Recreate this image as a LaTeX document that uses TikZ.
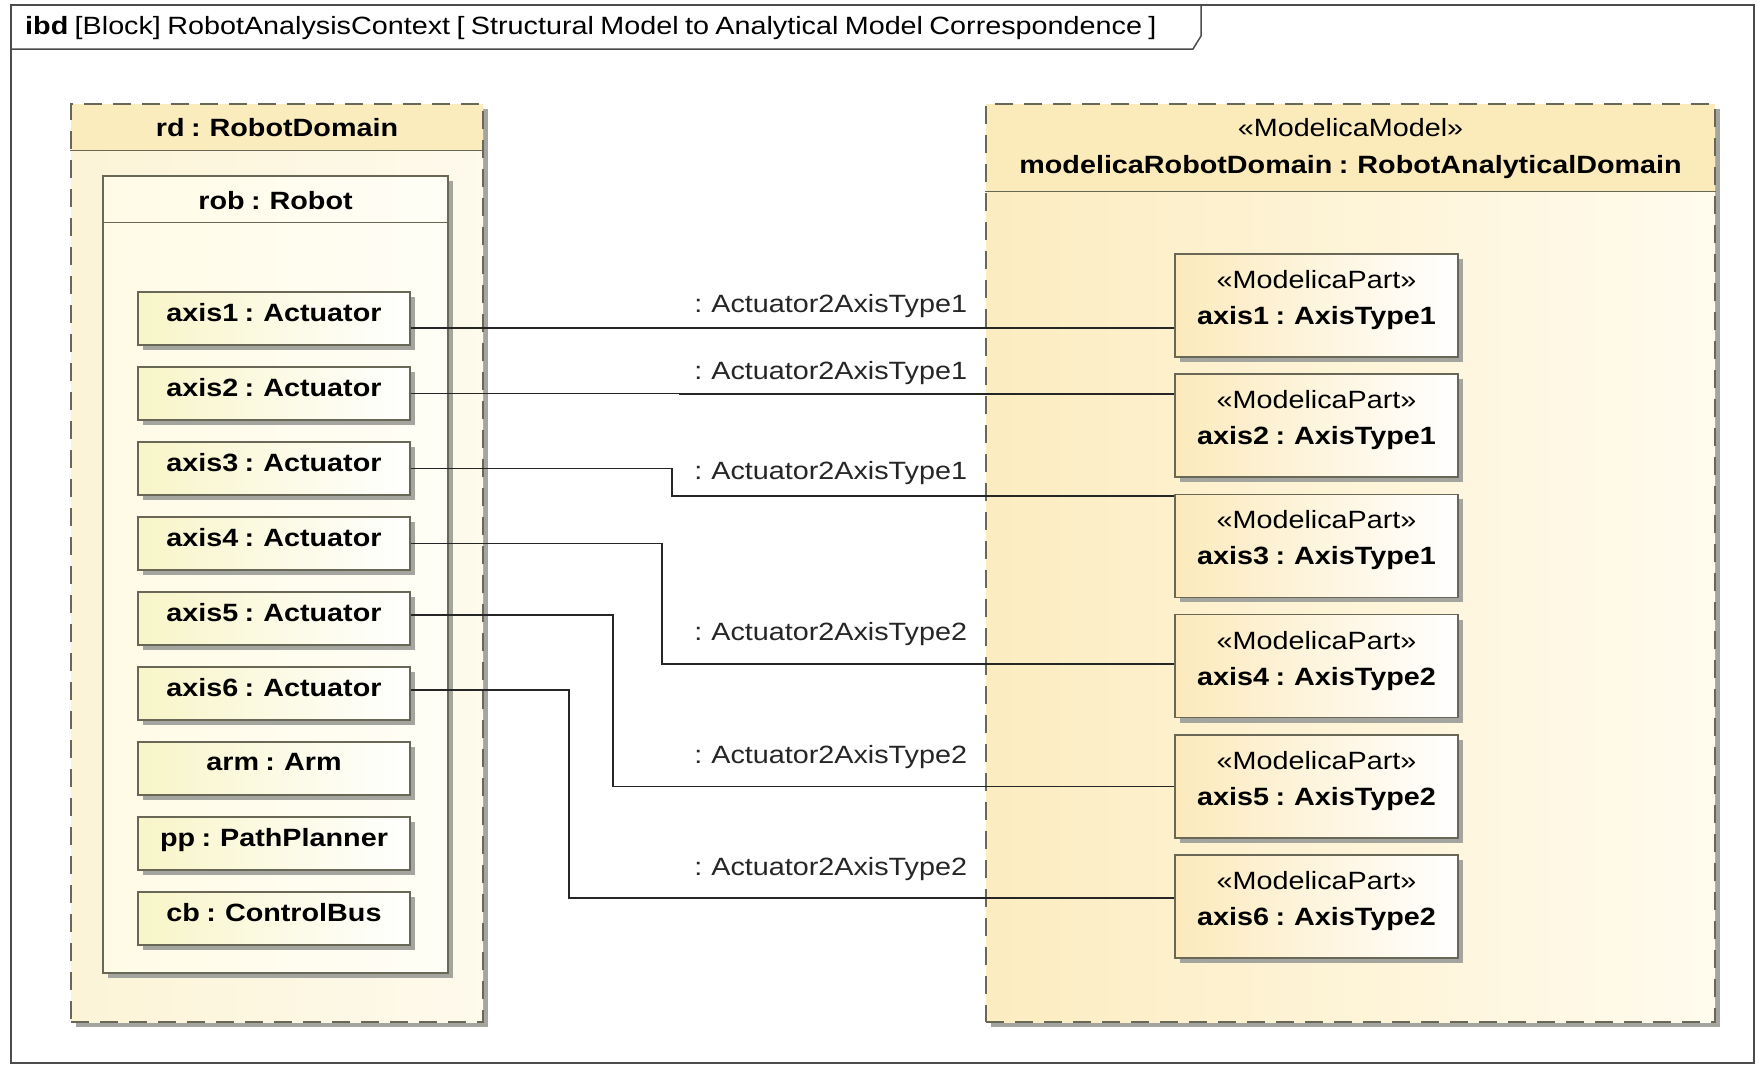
\documentclass[tikz,border=0pt]{standalone}
\usepackage{fontspec}
\setmainfont{Liberation Sans}[FakeStretch=1.15,WordSpace=0.8]
\usetikzlibrary{shadows}
\definecolor{edgegray}{RGB}{105,103,85}
\definecolor{shadowgray}{RGB}{165,165,160}
\definecolor{rdhead}{RGB}{251,236,190}
\definecolor{rdleft}{RGB}{252,244,215}
\definecolor{rdright}{RGB}{254,250,236}
\definecolor{robleft}{RGB}{255,251,230}
\definecolor{robright}{RGB}{255,254,246}
\definecolor{apartfill}{RGB}{248,245,200}
\definecolor{mdhead}{RGB}{251,234,186}
\definecolor{mdleft}{RGB}{252,236,192}
\definecolor{mdright}{RGB}{255,251,238}
\definecolor{mpartfill}{RGB}{252,234,188}
\newcommand\dgfont{\fontsize{25}{36}\selectfont}

\begin{document}
\begin{tikzpicture}[x=1pt,y=-1pt,
    partline/.style={draw=edgegray,line width=1.5pt},
    shade/.style={drop shadow={shadow xshift=5pt,shadow yshift=-5pt,fill=shadowgray,opacity=1}},
    block/.style={rectangle,partline,dash pattern=on 18pt off 11pt,shade,inner sep=0pt},
    apart/.style={rectangle,partline,shade,left color=apartfill,right color=white,
        minimum width=272pt,minimum height=53pt,text depth=13pt,font=\dgfont\bfseries},
    mpart/.style={rectangle,partline,shade,left color=mpartfill,right color=white,
        minimum width=283pt,minimum height=103pt,align=center,font=\dgfont},
    conn/.style={draw=black!85,line width=1.5pt},
    lbl/.style={font=\dgfont,text=black!85,inner sep=0pt}]
    \useasboundingbox (0,0) rectangle (1756,1066);
    \fill[white] (0,0) rectangle (1756,1066);

    % diagram frame
    \draw[line width=2pt,draw=black!70] (11,5) rectangle (1754,1063);
    \draw[line width=1.5pt,draw=black!70] (11,49) -- (1193,49) -- (1201,36) -- (1201,5);
    \node[anchor=west,font=\dgfont,inner sep=0pt] (hdr) at (25,28)
        {\textbf{ibd} [Block] RobotAnalysisContext [ Structural Model to Analytical Model Correspondence ]};

    % structural side
    \node[block,left color=rdleft,right color=rdright,minimum width=412pt,minimum height=918pt,
        path picture={\fill[rdhead] (path picture bounding box.north west) rectangle ([yshift=-47pt]path picture bounding box.north east);}] (rd) at (277,563) {};
    \draw[partline] ([yshift=-47pt]rd.north west) -- ([yshift=-47pt]rd.north east);
    \node[font=\dgfont\bfseries] (rdname) at ([yshift=-24pt]rd.north) {rd : RobotDomain};

    \node[rectangle,partline,shade,left color=robleft,right color=robright,
        minimum width=345pt,minimum height=797pt,inner sep=0pt] (rob) at (275.5,574.5) {};
    \draw[partline] ([yshift=-47pt]rob.north west) -- ([yshift=-47pt]rob.north east);
    \node[font=\dgfont\bfseries] (robname) at ([yshift=-25pt]rob.north) {rob : Robot};

    \foreach \nm/\txt [count=\k] in {a1/axis1 : Actuator,a2/axis2 : Actuator,a3/axis3 : Actuator,
        a4/axis4 : Actuator,a5/axis5 : Actuator,a6/axis6 : Actuator,
        arm/arm : Arm,pp/pp : PathPlanner,cb/cb : ControlBus}
        \node[apart] (\nm) at (274,{318.5+75*(\k-1)}) {\txt};

    % analytical side
    \node[block,left color=mdleft,right color=mdright,minimum width=729pt,minimum height=918pt,
        path picture={\fill[mdhead] (path picture bounding box.north west) rectangle ([yshift=-88pt]path picture bounding box.north east);}] (md) at (1350.5,563) {};
    \draw[partline] ([yshift=-88pt]md.north west) -- ([yshift=-88pt]md.north east);
    \node[font=\dgfont] (mdstereo) at ([yshift=-24pt]md.north) {«ModelicaModel»};
    \node[font=\dgfont\bfseries] (mdname) at ([yshift=-64pt]md.north) {modelicaRobotDomain : RobotAnalyticalDomain};

    \foreach \k/\ty in {1/1,2/1,3/1,4/2,5/2,6/2}
        \node[mpart] (m\k) at (1316.5,{305.5+120.2*(\k-1)})
            {«ModelicaPart»\\\textbf{axis\k{} : AxisType\ty}\\[-20pt]\mbox{}};

    % connectors
    \foreach \i/\jx/\ls/\rs/\ly/\ty in {1/680/-9.5/-22.5/22/1,2/680/0/31.7/21/1,3/672/0/50/23/1,
        4/662/0/2/30/2,5/613/3.5/0/29/2,6/569/3.5/8.5/29/2} {
        \coordinate (j\i) at (\jx,0);
        \coordinate (l\i) at ([yshift=\ls pt]a\i.east);
        \coordinate (r\i) at ([yshift=\rs pt]m\i.west);
        \draw[conn] (l\i) -- (l\i -| j\i) |- (r\i);
        \path (r\i -| md.west) ++(-18,-\ly) node[lbl,anchor=east] (t\i) {: Actuator2AxisType\ty};
    }
\end{tikzpicture}
\end{document}
